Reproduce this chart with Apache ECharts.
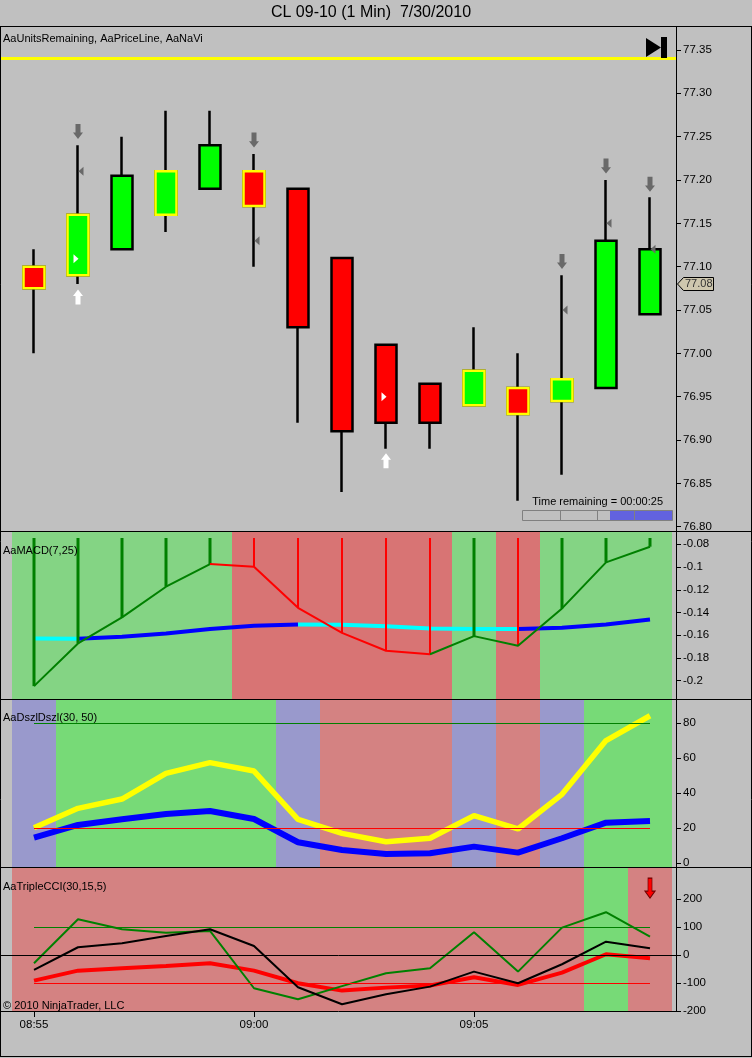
<!DOCTYPE html>
<html>
<head>
<meta charset="utf-8">
<script src="https://cdn.jsdelivr.net/npm/echarts@6.0.0/dist/echarts.min.js"></script>
<style>
html,body{margin:0;padding:0;background:#c0c0c0;overflow:hidden}
#chart{width:752px;height:1058px}
</style>
</head>
<body>
<div id="chart"></div>
<script>
// ---------------- data ----------------
const chartTitle = 'CL 09-10 (1 Min)  7/30/2010';
const times = ['08:55','08:56','08:57','08:58','08:59','09:00','09:01','09:02','09:03','09:04','09:05','09:06','09:07','09:08','09:09'];
const timeLabelIdx = [0, 5, 10];

const openP  = [77.10, 77.09, 77.12, 77.16, 77.19, 77.21, 77.19, 77.11, 77.01, 76.965, 76.94, 76.96, 76.945, 76.96, 77.045];
const closeP = [77.075, 77.16, 77.205, 77.21, 77.24, 77.17, 77.03, 76.91, 76.92, 76.92, 76.98, 76.93, 76.97, 77.13, 77.12];
const highP  = [77.12, 77.24, 77.25, 77.28, 77.28, 77.23, 77.19, 77.11, 77.01, 76.965, 77.03, 77.00, 77.09, 77.20, 77.18];
const lowP   = [77.00, 77.08, 77.12, 77.14, 77.19, 77.10, 76.92, 76.84, 76.89, 76.89, 76.94, 76.83, 76.86, 76.96, 77.045];
const yellowOutline = [1,1,0,1,0,1,0,0,0,0,1,1,1,0,0];
const priceTicks = [76.80, 76.85, 76.90, 76.95, 77.00, 77.05, 77.10, 77.15, 77.20, 77.25, 77.30, 77.35];
const unitsLine = 77.34;
const lastPriceTag = 77.08;
const arrowDownGray = [null, 77.256, null, null, null, 77.246, null, null, null, null, null, null, 77.106, 77.216, 77.195];
const arrowUpWhite  = [null, 77.065, null, null, null, null, null, null, 76.876, null, null, null, null, null, null];
const triLeftGray   = [null, 77.21, null, null, null, 77.13, null, null, null, null, null, null, 77.05, 77.15, 77.12];
const triRightWhite = [null, 77.109, null, null, null, null, null, null, 76.95, null, null, null, null, null, null];
const timeRemainingSec = 25, barSeconds = 60;

const macd       = [-0.2048, -0.1672, -0.1443, -0.1173, -0.0974, -0.0997, -0.1359, -0.1579, -0.1737, -0.1767, -0.1608, -0.1693, -0.1364, -0.0959, -0.0821];
const macdSignal = [-0.1628, -0.1630, -0.1614, -0.1584, -0.1546, -0.1517, -0.1505, -0.1507, -0.1522, -0.1540, -0.1546, -0.1546, -0.1535, -0.1505, -0.1461];
const macdState  = ['up','up','up','up','up','dn','dn','dn','dn','dn','up','dn','up','up','up'];
const macdSegRed = [0,0,0,0,1,1,1,1,1,0,0,0,0,0];
const sigSegCyan = [1,0,0,0,0,0,1,1,1,1,1,0,0,0];
const macdTicks  = [-0.2, -0.18, -0.16, -0.14, -0.12, -0.1, -0.08];

const dszFast  = [20.3, 31.4, 36.7, 51.4, 57.5, 52.7, 25.1, 17.1, 12.3, 14.3, 27.2, 19.6, 39.4, 70.1, 84.3];
const dszSlow  = [14.6, 21.9, 25.1, 28.2, 29.9, 25.3, 12.0, 7.6, 5.3, 5.7, 9.5, 6.1, 14.3, 23.2, 24.2];
const dszState = ['n','u','u','u','u','u','n','d','d','d','n','d','n','u','u'];
const dszLevels = [80, 20];
const dszTicks = [0, 20, 40, 60, 80];

const cciGreen = [-29, 128.5, 92.7, 80.6, 86.6, -118.5, -158, -111, -65, -47, 82, -59, 98.5, 153.6, 66.2];
const cciBlack = [-53, 28.3, 42.6, 68.7, 92.7, 32.9, -115, -175.8, -140, -112.7, -59, -100.6, -32.6, 48.3, 24.6];
const cciRed   = [-91.3, -55.5, -47, -38.7, -29, -55.5, -100.6, -127, -116.3, -109, -79, -106.6, -62.7, 3.2, -11];
const cciState = ['d','d','d','d','d','d','d','d','d','d','d','d','d','u','d'];
const cciLevels = [100, 0, -100];
const cciTicks = [-200, -100, 0, 100, 200];
const cciSignal = [14, 240];

// ---------------- styling ----------------
const FONT = '"Liberation Sans", Arial, sans-serif';
const xMin = -0.75, xMax = 14.5909;
const GRIDS = [
  {top: 27, height: 505},
  {top: 532, height: 168},
  {top: 700, height: 168},
  {top: 868, height: 143}
];
const macdBand = {up: '#84d484', dn: '#d87474'};
const dszBand = {u: '#77da77', n: '#9999cc', d: '#d48282'};
const cciBand = {u: '#77da77', d: '#d48282'};

function pts(arr) { const r = []; arr.forEach((v, i) => { if (v != null) r.push([i, v]); }); return r; }
function segData(vals, segs, flag) {
  return vals.map((v, j) => {
    const inc = (j > 0 && segs[j - 1] === flag) || (j < vals.length - 1 && segs[j] === flag);
    return [j, inc ? v : '-'];
  });
}
function bandSeries(g, states, cmap) {
  return {
    type: 'custom', xAxisIndex: g, yAxisIndex: g, silent: true, z: 1,
    data: states.map((s, i) => [i]),
    renderItem: (params, api) => {
      const i = api.value(0);
      const cs = params.coordSys;
      const a = api.coord([i - 0.5, 0])[0], b = api.coord([i + 0.5, 0])[0];
      return {type: 'rect', shape: {x: a, y: cs.y, width: b - a, height: cs.height},
              style: {fill: cmap[states[params.dataIndex]]}};
    }
  };
}
function lineS(g, data, color, width, z) {
  return {type: 'line', xAxisIndex: g, yAxisIndex: g, data: data, symbol: 'none', showSymbol: false,
          silent: true, connectNulls: false, z: z || 3, lineStyle: {color: color, width: width}};
}
function levelS(g, lines) {
  return {type: 'line', xAxisIndex: g, yAxisIndex: g, data: [[0, '-']], symbol: 'none', silent: true, z: 2,
          markLine: {silent: true, symbol: 'none', label: {show: false}, animation: false, data: lines}};
}
function yAx(g, min, max, ticks, fmt) {
  return {
    type: 'value', gridIndex: g, position: 'right', min: min, max: max,
    axisLine: {show: true, onZero: false, lineStyle: {color: '#000', width: 1}},
    axisTick: {show: true, inside: false, length: 5, customValues: ticks, lineStyle: {color: '#000'}},
    axisLabel: {show: true, customValues: ticks, margin: 7, color: '#000', fontSize: 11.5, fontFamily: FONT, formatter: fmt},
    splitLine: {show: false}
  };
}

const downPath = 'path://M2.5,0L7.5,0L7.5,8L10,8L5,14L0,8L2.5,8Z';
const upPath = 'path://M5,0L10,6L7.5,6L7.5,14L2.5,14L2.5,6L0,6Z';
const leftTri = 'path://M0,5L6,0L6,10Z';
const rightTri = 'path://M6,5L0,0L0,10Z';
const bigDown = 'path://M3,0L7,0L7,13L10,13L5,20L0,13L3,13Z';

const chart = echarts.init(document.getElementById('chart'), null, {renderer: 'canvas'});

const candleData = times.map((t, i) => [i, openP[i], closeP[i], lowP[i], highP[i]]);
const yellowData = [];
times.forEach((t, i) => {
  if (yellowOutline[i]) yellowData.push([i, openP[i], closeP[i], Math.min(openP[i], closeP[i]), Math.max(openP[i], closeP[i])]);
});

const option = {
  animation: false,
  backgroundColor: '#c0c0c0',
  grid: GRIDS.map(g => ({left: 1, right: 76, top: g.top, height: g.height, outerBoundsMode: 'none', containLabel: false, show: false})),
  xAxis: [0, 1, 2, 3].map(g => ({
    type: 'value', gridIndex: g, min: xMin, max: xMax, show: g === 3, position: 'bottom',
    axisLine: {show: true, onZero: false, lineStyle: {color: '#000', width: 1}},
    axisTick: {show: true, length: 6, customValues: timeLabelIdx, lineStyle: {color: '#000'}},
    axisLabel: {show: true, customValues: timeLabelIdx, margin: 8, color: '#000', fontSize: 11.5, fontFamily: FONT,
                formatter: v => times[Math.round(v)]},
    splitLine: {show: false}
  })),
  yAxis: [
    yAx(0, 76.7939, 77.3765, priceTicks, v => v.toFixed(2)),
    yAx(1, -0.2170, -0.06916, macdTicks, v => String(+v.toFixed(2))),
    yAx(2, -2.7, 93.3, dszTicks, v => String(Math.round(v))),
    yAx(3, -200, 312, cciTicks, v => String(Math.round(v)))
  ],
  series: [
    // ---- price panel ----
    {type: 'candlestick', xAxisIndex: 0, yAxisIndex: 0, barWidth: 22, silent: true, z: 3,
     data: candleData, encode: {x: 0, y: [1, 2, 3, 4]},
     itemStyle: {color: '#00ff00', color0: '#ff0000', borderColor: '#000000', borderColor0: '#000000', borderWidth: 2.5}},
    {type: 'candlestick', xAxisIndex: 0, yAxisIndex: 0, barWidth: 22, silent: true, z: 4,
     data: yellowData, encode: {x: 0, y: [1, 2, 3, 4]},
     itemStyle: {color: '#00ff00', color0: '#ff0000', borderColor: '#ffff00', borderColor0: '#ffff00', borderWidth: 2.5}},
    {type: 'scatter', xAxisIndex: 0, yAxisIndex: 0, silent: true, z: 5, data: pts(arrowDownGray),
     symbol: downPath, symbolSize: [10, 15], itemStyle: {color: '#696969', opacity: 1},
     markLine: {silent: true, symbol: 'none', label: {show: false}, animation: false,
                lineStyle: {color: '#ffff00', width: 3, type: 'solid'}, data: [{yAxis: unitsLine}]}},
    {type: 'scatter', xAxisIndex: 0, yAxisIndex: 0, silent: true, z: 5, data: pts(arrowUpWhite),
     symbol: upPath, symbolSize: [10, 15], itemStyle: {color: '#ffffff', opacity: 1}},
    {type: 'scatter', xAxisIndex: 0, yAxisIndex: 0, silent: true, z: 5, data: pts(triLeftGray),
     symbol: leftTri, symbolSize: [5, 9], symbolOffset: [3, 0], itemStyle: {color: '#696969', opacity: 1}},
    {type: 'scatter', xAxisIndex: 0, yAxisIndex: 0, silent: true, z: 5, data: pts(triRightWhite),
     symbol: rightTri, symbolSize: [5, 9], symbolOffset: [-2, 0], itemStyle: {color: '#ffffff', opacity: 1}},

    // ---- MACD panel ----
    bandSeries(1, macdState, macdBand),
    lineS(1, segData(macdSignal, sigSegCyan, 0), '#0000ff', 4, 3),
    lineS(1, segData(macdSignal, sigSegCyan, 1), '#00ffff', 4, 3),
    {type: 'custom', xAxisIndex: 1, yAxisIndex: 1, silent: true, z: 4,
     data: macd.map((v, i) => [i, v]),
     renderItem: (params, api) => {
       const p = api.coord([api.value(0), api.value(1)]);
       const top = params.coordSys.y + 6;
       const up = macdState[params.dataIndex] === 'up';
       return {type: 'line', shape: {x1: p[0], y1: top, x2: p[0], y2: p[1]},
               style: {stroke: up ? '#008000' : '#ff0000', lineWidth: up ? 3 : 2}};
     }},
    lineS(1, segData(macd, macdSegRed, 0), '#008000', 2, 5),
    lineS(1, segData(macd, macdSegRed, 1), '#ff0000', 2, 5),

    // ---- DsZ panel ----
    bandSeries(2, dszState, dszBand),
    levelS(2, [
      [{coord: [0, dszLevels[0]], lineStyle: {color: '#008000', width: 1, type: 'solid'}}, {coord: [times.length - 1, dszLevels[0]]}],
      [{coord: [0, dszLevels[1]], lineStyle: {color: '#ff0000', width: 1, type: 'solid'}}, {coord: [times.length - 1, dszLevels[1]]}]
    ]),
    lineS(2, dszSlow.map((v, i) => [i, v]), '#0000ff', 6, 3),
    lineS(2, dszFast.map((v, i) => [i, v]), '#ffff00', 5.5, 4),

    // ---- Triple CCI panel ----
    bandSeries(3, cciState, cciBand),
    levelS(3, [
      [{coord: [0, cciLevels[0]], lineStyle: {color: '#008000', width: 1, type: 'solid'}}, {coord: [times.length - 1, cciLevels[0]]}],
      {yAxis: cciLevels[1], lineStyle: {color: '#000000', width: 1, type: 'solid'}},
      [{coord: [0, cciLevels[2]], lineStyle: {color: '#ff0000', width: 1, type: 'solid'}}, {coord: [times.length - 1, cciLevels[2]]}]
    ]),
    lineS(3, cciRed.map((v, i) => [i, v]), '#ff0000', 4, 3),
    lineS(3, cciGreen.map((v, i) => [i, v]), '#008000', 2, 4),
    lineS(3, cciBlack.map((v, i) => [i, v]), '#000000', 2, 5),
    {type: 'scatter', xAxisIndex: 3, yAxisIndex: 3, silent: true, z: 6, data: [cciSignal],
     symbol: bigDown, symbolSize: [10, 20], itemStyle: {color: '#ff0000', borderColor: '#700000', borderWidth: 1, opacity: 1}}
  ]
};
chart.setOption(option);

// ---------------- decorations ----------------
const tagY = chart.convertToPixel({yAxisIndex: 0}, lastPriceTag);
const barL = 522.5, barR = 672.5, barT = 510.5, barB = 520.5;
const fillW = (barR - barL) * timeRemainingSec / barSeconds;
function txt(x, y, text, size, align) {
  return {type: 'text', x: x, y: y, z: 100,
          style: {text: text, fill: '#000', fontSize: size, fontFamily: FONT, align: align || 'left', verticalAlign: 'middle'}};
}
function hl(x1, x2, y) { return {type: 'line', z: 100, shape: {x1: x1, y1: y, x2: x2, y2: y}, style: {stroke: '#000', lineWidth: 1}}; }
function vl(x, y1, y2, c) { return {type: 'line', z: 100, shape: {x1: x, y1: y1, x2: x, y2: y2}, style: {stroke: c || '#000', lineWidth: 1}}; }

const graphics = [
  txt(371, 13, chartTitle, 16, 'center'),
  txt(3, 39, 'AaUnitsRemaining, AaPriceLine, AaNaVi', 11),
  txt(3, 551, 'AaMACD(7,25)', 11),
  txt(3, 718, 'AaDszlDszl(30, 50)', 11),
  txt(3, 887, 'AaTripleCCI(30,15,5)', 11),
  txt(3, 1006, '\u00A9 2010 NinjaTrader, LLC', 11),
  txt(663, 502, 'Time remaining = 00:00:' + String(timeRemainingSec).padStart(2, '0'), 11, 'right'),
  // frame
  hl(0, 752, 26.5), hl(0, 752, 531.5), hl(0, 752, 699.5), hl(0, 752, 867.5),
  hl(0, 752, 1056.5),
  vl(0.5, 26.5, 1057), vl(751.5, 26.5, 1057),
  // time remaining bar
  {type: 'rect', z: 100, shape: {x: barR - fillW, y: barT, width: fillW, height: barB - barT}, style: {fill: '#6262df'}},
  {type: 'rect', z: 101, shape: {x: barL, y: barT, width: barR - barL, height: barB - barT}, style: {fill: 'none', stroke: '#808080', lineWidth: 1}},
  vl(560.5, barT, barB, '#808080'), vl(597.5, barT, barB, '#808080'), vl(634.5, barT, barB, '#808080'),
  // navigation icon
  {type: 'polygon', z: 100, shape: {points: [[646, 38], [661, 47.5], [646, 57]]}, style: {fill: '#000'}},
  {type: 'rect', z: 100, shape: {x: 661, y: 37, width: 6, height: 21}, style: {fill: '#000'}},
  // last price tag
  {type: 'polygon', z: 100, shape: {points: [[677.5, tagY], [683.5, tagY - 6.5], [713.5, tagY - 6.5], [713.5, tagY + 6.5], [683.5, tagY + 6.5]]},
   style: {fill: '#cec7ae', stroke: '#000', lineWidth: 1}},
  {type: 'text', z: 101, x: 685, y: tagY, style: {text: lastPriceTag.toFixed(2), fill: '#333', fontSize: 11, fontFamily: FONT, verticalAlign: 'middle'}}
];
chart.setOption({graphic: graphics});
</script>
</body>
</html>
